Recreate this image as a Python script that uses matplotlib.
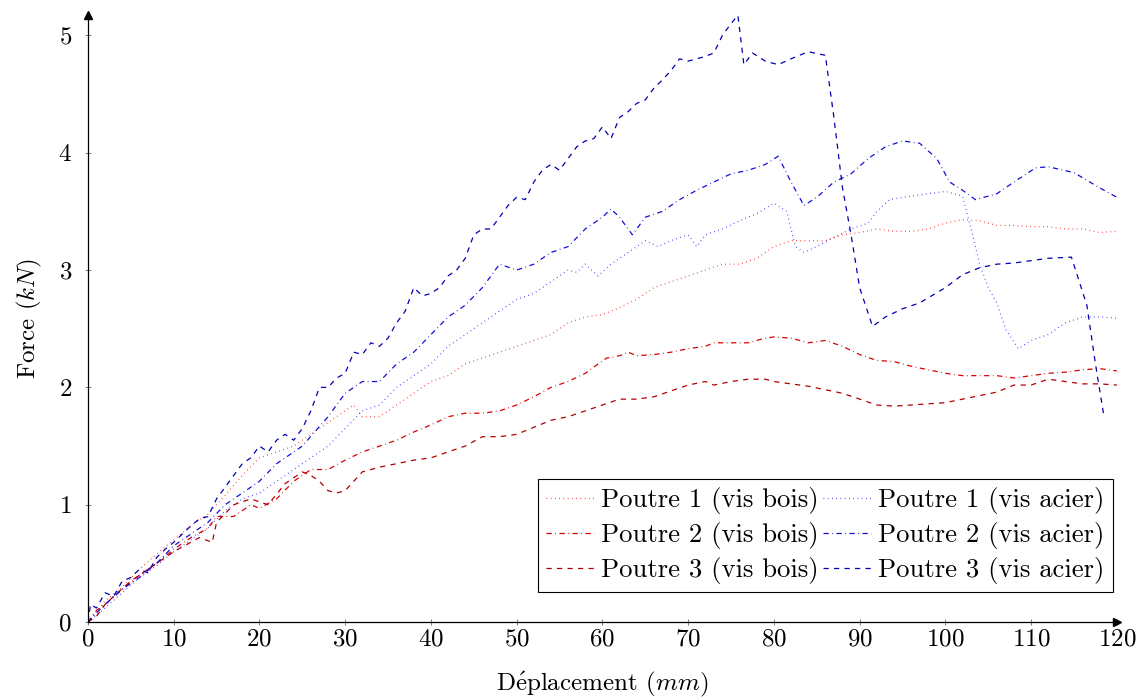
import matplotlib.pyplot as plt
import numpy as np

plt.rcParams['font.family'] = ['cmr10', 'DejaVu Serif']
plt.rcParams['mathtext.fontset'] = 'cm'
plt.rcParams['axes.formatter.use_mathtext'] = True
plt.rcParams['font.size'] = 18

# Poutre 1 (vis bois)
x_b1 = [0, 2, 4, 6, 8, 10, 12, 14, 15, 16, 18, 20, 22, 24, 26, 28, 30, 31, 32, 34, 36, 38, 40, 42, 44, 46, 48,
        50, 52, 54, 56, 58, 60, 62, 64, 66, 68, 70, 72, 74, 76, 78, 80, 82, 84, 86, 88, 90, 92, 94, 96, 98,
        100, 102, 104, 106, 108, 110, 112, 114, 116, 118, 120]
y_b1 = [0, 0.18, 0.3, 0.45, 0.58, 0.7, 0.82, 0.92, 1.0, 1.08, 1.25, 1.4, 1.45, 1.5, 1.6, 1.7, 1.8, 1.85, 1.75,
        1.75, 1.85, 1.95, 2.05, 2.1, 2.2, 2.25, 2.3, 2.35, 2.4, 2.45, 2.55, 2.6, 2.62, 2.68, 2.75, 2.85, 2.9,
        2.95, 3.0, 3.05, 3.05, 3.1, 3.2, 3.25, 3.25, 3.25, 3.3, 3.32, 3.35, 3.33, 3.33, 3.35, 3.4, 3.43, 3.42,
        3.38, 3.38, 3.37, 3.37, 3.35, 3.35, 3.32, 3.33]

# Poutre 2 (vis bois)
x_b2 = [0, 1, 2, 4, 6, 8, 10, 12, 14, 15, 17, 19, 20, 22, 24, 26, 28, 30, 32, 34, 36, 38, 40, 42, 44, 46, 48,
        50, 52, 54, 56, 58, 59.5, 60.5, 62, 63, 64, 66, 68, 70, 72, 73, 75, 77, 79, 80, 82, 84, 86, 88, 90,
        92, 94, 96, 98, 100, 102, 104, 106, 108, 110, 112, 114, 116, 118, 120]
y_b2 = [0, 0.1, 0.15, 0.28, 0.4, 0.5, 0.62, 0.72, 0.8, 0.9, 0.9, 1.0, 0.97, 1.05, 1.2, 1.3, 1.3, 1.38, 1.45,
        1.5, 1.55, 1.62, 1.68, 1.75, 1.78, 1.78, 1.8, 1.85, 1.92, 2.0, 2.05, 2.12, 2.2, 2.25, 2.27, 2.3,
        2.27, 2.28, 2.3, 2.33, 2.35, 2.38, 2.38, 2.38, 2.42, 2.43, 2.42, 2.38, 2.4, 2.35, 2.28, 2.23, 2.22,
        2.18, 2.15, 2.12, 2.1, 2.1, 2.1, 2.08, 2.1, 2.12, 2.13, 2.15, 2.16, 2.14]

# Poutre 3 (vis bois)
x_b3 = [0, 1, 2, 3, 5, 7, 10, 13, 14.5, 15, 17, 19, 21, 23, 25, 26, 27, 28, 29, 30, 31, 32, 34, 36, 38, 40,
        42, 44, 46, 48, 50, 52, 54, 56, 58, 60, 62, 64, 66, 68, 70, 72, 73, 75, 77, 79, 80, 82, 84, 86, 88,
        90, 92, 94, 96, 98, 100, 102, 104, 106, 108, 110, 112, 114, 116, 118, 120]
y_b3 = [0, 0.05, 0.15, 0.22, 0.35, 0.45, 0.6, 0.72, 0.68, 0.85, 1.0, 1.05, 1.0, 1.18, 1.28, 1.25, 1.2, 1.12,
        1.1, 1.12, 1.2, 1.28, 1.32, 1.35, 1.38, 1.4, 1.45, 1.5, 1.58, 1.58, 1.6, 1.66, 1.72, 1.75, 1.8, 1.85,
        1.9, 1.9, 1.92, 1.97, 2.02, 2.05, 2.02, 2.05, 2.07, 2.07, 2.05, 2.03, 2.01, 1.98, 1.95, 1.9, 1.85,
        1.84, 1.85, 1.86, 1.87, 1.9, 1.93, 1.96, 2.02, 2.02, 2.07, 2.05, 2.03, 2.03, 2.02]

# Poutre 1 (vis acier)
x_a1 = [0, 2, 4, 6, 8, 10, 12, 14, 16, 18, 20, 22, 25, 28, 30, 32, 34, 36, 38, 40, 42, 44, 46, 48, 50, 52,
        54, 56, 57, 58, 59.5, 61, 63, 65, 66.5, 68, 70, 71, 72, 74, 76, 78, 80, 81.5, 82.5, 83.5, 85, 87, 89,
        91, 92, 93.5, 96, 98, 100, 102, 103, 104, 105, 106, 107, 108.5, 110, 112, 114, 116, 118, 120]
y_a1 = [0, 0.12, 0.25, 0.38, 0.48, 0.6, 0.7, 0.8, 0.95, 1.05, 1.1, 1.2, 1.35, 1.5, 1.65, 1.8, 1.85, 2.0, 2.1,
        2.2, 2.35, 2.45, 2.55, 2.65, 2.75, 2.8, 2.9, 3.0, 2.98, 3.05, 2.95, 3.05, 3.15, 3.25, 3.2, 3.25,
        3.3, 3.2, 3.3, 3.35, 3.42, 3.48, 3.57, 3.5, 3.2, 3.15, 3.2, 3.28, 3.35, 3.4, 3.5, 3.6, 3.63, 3.65,
        3.67, 3.63, 3.35, 3.05, 2.85, 2.72, 2.5, 2.33, 2.4, 2.45, 2.55, 2.6, 2.6, 2.59]

# Poutre 2 (vis acier)
x_a2 = [0, 1, 2, 4, 6, 8, 10, 12, 14, 16, 18, 20, 22, 25, 28, 30, 32, 34, 36, 38, 40, 42, 44, 46, 48, 50,
        52, 54, 56, 58, 60, 61, 62, 63.5, 65, 67, 69, 71, 73, 75, 77, 79, 80.5, 82, 83.5, 85, 87, 89, 91, 93,
        95, 97, 99, 100.5, 102, 103.5, 106, 108, 110.5, 112, 115, 118, 120]
y_a2 = [0, 0.08, 0.15, 0.28, 0.38, 0.5, 0.65, 0.75, 0.85, 1.0, 1.1, 1.2, 1.35, 1.5, 1.75, 1.95, 2.05, 2.05,
        2.2, 2.3, 2.45, 2.6, 2.7, 2.85, 3.05, 3.0, 3.05, 3.15, 3.2, 3.35, 3.45, 3.52, 3.45, 3.3, 3.45, 3.5,
        3.6, 3.68, 3.75, 3.82, 3.85, 3.9, 3.97, 3.75, 3.55, 3.62, 3.75, 3.82, 3.95, 4.05, 4.1, 4.08, 3.95,
        3.75, 3.68, 3.6, 3.65, 3.75, 3.87, 3.88, 3.83, 3.7, 3.62]

# Poutre 3 (vis acier)
x_a3 = [0, 0.3, 1, 2, 3, 4, 5, 6, 7, 8, 9, 10, 11, 12, 13, 14, 15, 16, 17, 18, 19, 20, 21, 22, 23, 24, 25,
        26, 27, 28, 29, 30, 31, 32, 33, 34, 35, 36, 37, 38, 39, 40, 41, 42, 43, 44, 45, 46, 47, 48, 49, 50,
        51, 52, 53, 54, 55, 56, 57, 58, 59, 60, 61, 62, 63, 64, 65, 66, 67, 68, 69, 70, 71, 72, 73, 74, 75,
        75.8, 76.5, 77.5, 79, 80.5, 82, 84, 86, 87, 88, 89, 90, 91.5, 93, 95, 97, 100, 102, 104, 106, 108,
        110, 112, 114.7, 116.5, 117.5, 118.5]
y_a3 = [0, 0.15, 0.12, 0.25, 0.22, 0.35, 0.38, 0.45, 0.42, 0.55, 0.62, 0.68, 0.75, 0.82, 0.88, 0.9, 1.05,
        1.15, 1.25, 1.35, 1.4, 1.5, 1.45, 1.55, 1.6, 1.55, 1.65, 1.8, 2.0, 2.0, 2.08, 2.12, 2.3, 2.28, 2.38,
        2.35, 2.42, 2.55, 2.65, 2.85, 2.78, 2.8, 2.85, 2.95, 3.0, 3.1, 3.3, 3.35, 3.35, 3.45, 3.55, 3.62,
        3.6, 3.75, 3.85, 3.9, 3.85, 3.95, 4.05, 4.1, 4.12, 4.22, 4.12, 4.3, 4.35, 4.42, 4.45, 4.55, 4.62,
        4.7, 4.8, 4.78, 4.8, 4.82, 4.85, 5.0, 5.1, 5.17, 4.75, 4.85, 4.78, 4.75, 4.8, 4.86, 4.83, 4.3, 3.7,
        3.3, 2.85, 2.52, 2.6, 2.67, 2.72, 2.85, 2.96, 3.02, 3.05, 3.06, 3.08, 3.1, 3.11, 2.7, 2.2, 1.75]

labels = ['Poutre 1 (vis bois)', 'Poutre 2 (vis bois)', 'Poutre 3 (vis bois)',
          'Poutre 1 (vis acier)', 'Poutre 2 (vis acier)', 'Poutre 3 (vis acier)']

dotted = (0, (0.6, 2.8))
dashdot = (0, (4.2, 2.8, 0.6, 2.8))
dashed = (0, (4.2, 4.2))

fig = plt.figure(figsize=(11.42, 6.99), dpi=100)
ax = fig.add_axes([0.077, 0.110, 0.901, 0.868])

ax.plot(x_b1, y_b1, color='#ff2020', ls=dotted, lw=0.9, label=labels[0])
ax.plot(x_b2, y_b2, color='#dd0000', ls=dashdot, lw=0.9, label=labels[1])
ax.plot(x_b3, y_b3, color='#b00000', ls=dashed, lw=0.9, label=labels[2])
ax.plot(x_a1, y_a1, color='#3030ff', ls=dotted, lw=0.9, label=labels[3])
ax.plot(x_a2, y_a2, color='#1010dd', ls=dashdot, lw=0.9, label=labels[4])
ax.plot(x_a3, y_a3, color='#0000b0', ls=dashed, lw=0.9, label=labels[5])

ax.set_xlim(0, 120)
ax.set_ylim(0, 5.17)
ax.set_xticks(np.arange(0, 121, 10))
ax.set_yticks(np.arange(0, 6, 1))
ax.spines['top'].set_visible(False)
ax.spines['right'].set_visible(False)
ax.spines['left'].set_linewidth(0.9)
ax.spines['bottom'].set_linewidth(0.9)
ax.tick_params(direction='inout', length=5, width=0.6, color='#666666', labelsize=18)
ax.tick_params(axis='x', pad=2)
ax.tick_params(axis='y', pad=9)
ax.plot(1, 0, '>k', ms=6, transform=ax.get_yaxis_transform(), clip_on=False)
ax.plot(0, 1, '^k', ms=6, transform=ax.get_xaxis_transform(), clip_on=False)

ax.set_xlabel(r'D$\acute{\mathrm{e}}$placement ($mm$)', fontsize=18, labelpad=14)
ax.set_ylabel('Force ($kN$)', fontsize=18, labelpad=10)

leg = ax.legend(ncol=2, loc='lower right', bbox_to_anchor=(0.996, 0.049), borderaxespad=0,
                fontsize=19.2, handlelength=1.8, handletextpad=0.28, columnspacing=0.15,
                labelspacing=0.3, borderpad=0.3, fancybox=False, framealpha=1, edgecolor='black')
leg.get_frame().set_linewidth(0.8)

plt.savefig('out.png', dpi=100)
